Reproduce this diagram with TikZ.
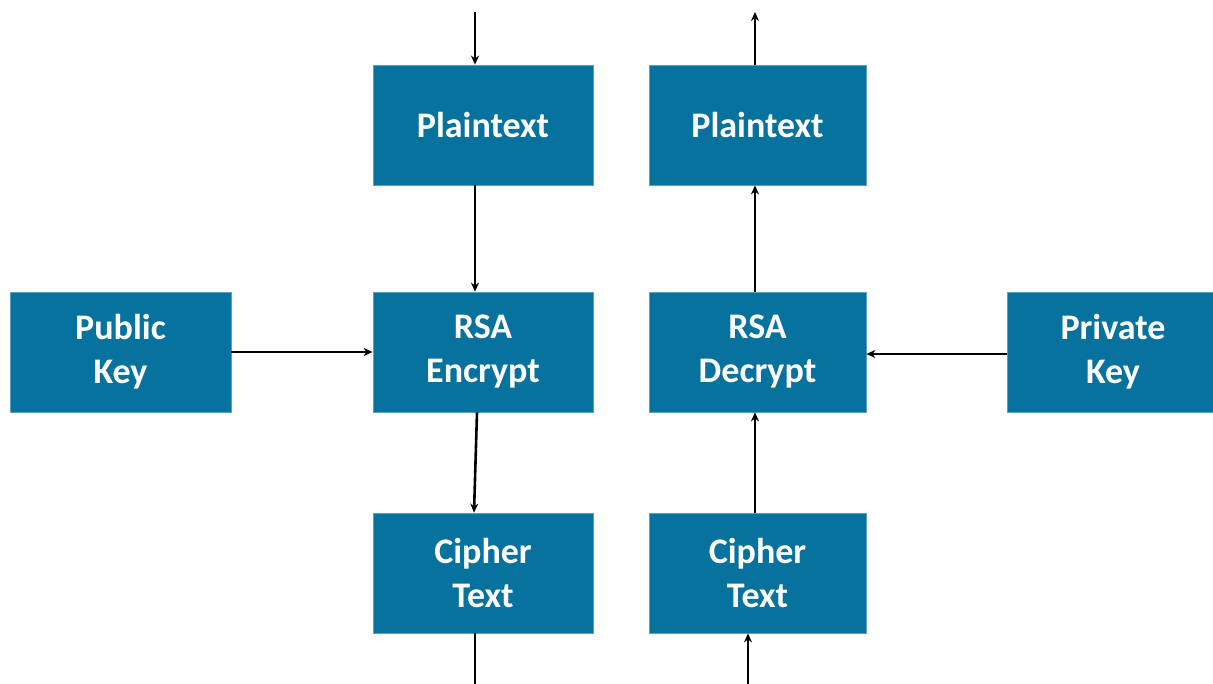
\documentclass[tikz,border=0pt]{standalone}
\usepackage{fontspec}
\setmainfont{Carlito}
\usetikzlibrary{arrows.meta}
\definecolor{boxblue}{RGB}{8,114,158}
\definecolor{boxedge}{RGB}{90,160,195}
\begin{document}
\begin{tikzpicture}[x=1pt,y=-1pt,
  blk/.style={draw=boxedge,line width=0.8pt,fill=boxblue,text=white,
    minimum width=220pt,minimum height=120pt,inner sep=0pt,align=center,
    font=\fontsize{36}{44}\selectfont\bfseries},
  conn/.style={line width=2.6pt,-{Stealth[length=9pt,width=8pt]}},
  plain/.style={line width=2.6pt}]
\useasboundingbox (0,0) rectangle (1213,684);
\node[blk] (pt1) at (483,125) {Plaintext};
\node[blk,minimum width=217pt] (pt2) at (757.5,125) {Plaintext};
\node[blk,minimum width=221pt] (pub) at (120.5,352) {Public\\Key};
\node[blk] (enc) at (483,352) {RSA\\Encrypt};
\node[blk,minimum width=217pt] (dec) at (757.5,352) {RSA\\Decrypt};
\node[blk,minimum width=212pt] (priv) at (1113,352) {Private\\Key};
\node[blk] (ct1) at (483,573) {Cipher\\Text};
\node[blk,minimum width=217pt] (ct2) at (757.5,573) {Cipher\\Text};
\coordinate (inA) at (475,12);
\coordinate (outA) at (475,690);
\coordinate (outB) at (755,12);
\coordinate (inB) at (748,690);
\draw[conn] (inA) -- ([xshift=-8pt]pt1.north);
\draw[conn] ([xshift=-8pt]pt1.south) -- ([xshift=-8pt]enc.north);
\draw[conn] ([xshift=-6pt]enc.south) -- ([xshift=-9pt]ct1.north);
\draw[plain] ([xshift=-8pt]ct1.south) -- (outA);
\draw[conn] (pub.east) -- (enc.west);
\draw[conn] ([xshift=-2.5pt]pt2.north) -- (outB);
\draw[conn] ([xshift=-2.5pt]dec.north) -- ([xshift=-2.5pt]pt2.south);
\draw[conn] ([xshift=-2.5pt]ct2.north) -- ([xshift=-2.5pt]dec.south);
\draw[conn] (inB) -- ([xshift=-9.5pt]ct2.south);
\draw[conn] ([yshift=-2pt]priv.west) -- ([yshift=-2pt]dec.east);
\end{tikzpicture}
\end{document}
